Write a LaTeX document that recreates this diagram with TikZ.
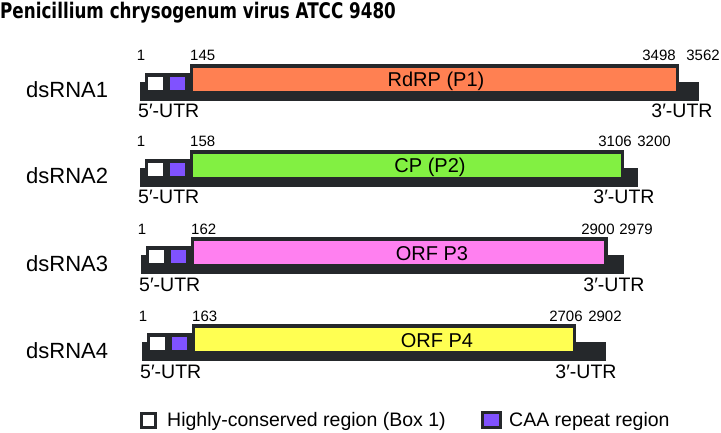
\documentclass[tikz,border=0pt]{standalone}
\usepackage{fontspec}
\setmainfont{Liberation Sans}
\newfontfamily\pcvtitle{DejaVu Sans}[FakeStretch=0.78]
\usetikzlibrary{positioning}
\definecolor{pcv@dark}{RGB}{37,40,43}
\definecolor{pcv@rdrp}{RGB}{255,128,82}
\definecolor{pcv@cp}{RGB}{130,240,66}
\definecolor{pcv@p3}{RGB}{255,128,240}
\definecolor{pcv@p4}{RGB}{255,255,82}
\definecolor{pcv@caa}{RGB}{128,82,255}
\tikzset{
  pcv/.style={x=1pt, y=-1pt, every node/.style={inner sep=0pt}},
  backbone/.style={fill=pcv@dark},          % dark genome bar
  boxone/.style={fill=white},               % highly-conserved region
  caabox/.style={fill=pcv@caa},             % CAA repeat region
  numlab/.style={font=\fontsize{15}{15}\selectfont, anchor=base},
  utrlab/.style={font=\fontsize{19.5}{19.5}\selectfont, anchor=base},
  seglab/.style={font=\fontsize{22}{22}\selectfont, anchor=base west},
  orflab/.style={font=\fontsize{20}{20}\selectfont, anchor=base},
  keylab/.style={font=\fontsize{19.5}{19.5}\selectfont, anchor=base west}
}
\begin{document}
\begin{tikzpicture}[pcv]
\useasboundingbox (0,0) rectangle (721,433);

\node[anchor=base west, font=\pcvtitle\bfseries\fontsize{21.5}{21.5}\selectfont] (title) at (0,18.5)
  {Penicillium chrysogenum virus ATCC 9480};

% dsRNA1
\begin{scope}[shift={(0,82)}]
\fill[backbone] (140,0) rectangle (699,19);
\fill[backbone] (145,-9) rectangle (190,19);
\fill[backbone] (190,-18) rectangle (679,19);
\fill[pcv@rdrp] (193,-14) rectangle (676,9);
\fill[boxone] (148,-5) rectangle (163,8);
\fill[caabox] (170,-5) rectangle (185,8);
\node[seglab] (seg1) at (26,16) {dsRNA1};
\node[orflab] (orf1) at (436,5) {RdRP (P1)};
\node[numlab] (s1)  at (141,-21) {1};
\node[numlab, anchor=base west] (a1) at (190,-21) {145};
\node[numlab] (b1)  at (659,-21) {3498};
\node[numlab] (e1)  at (703,-21) {3562};
\node[utrlab, anchor=base west] (u5p1) at (138,36) {5′-UTR};
\node[utrlab] (u3p1) at (682,36) {3′-UTR};
\end{scope}

% dsRNA2
\begin{scope}[shift={(0,168)}]
\fill[backbone] (140,0) rectangle (638,19);
\fill[backbone] (145,-9) rectangle (190,19);
\fill[backbone] (190,-18) rectangle (624,19);
\fill[pcv@cp] (193,-14) rectangle (621,9);
\fill[boxone] (148,-5) rectangle (163,8);
\fill[caabox] (170,-5) rectangle (185,8);
\node[seglab] (seg2) at (26,16) {dsRNA2};
\node[orflab] (orf2) at (430,5) {CP (P2)};
\node[numlab] (s2)  at (141,-21) {1};
\node[numlab, anchor=base west] (a2) at (190,-21) {158};
\node[numlab] (b2)  at (615,-21) {3106};
\node[numlab] (e2)  at (654,-21) {3200};
\node[utrlab, anchor=base west] (u5p2) at (138,36) {5′-UTR};
\node[utrlab] (u3p2) at (624,36) {3′-UTR};
\end{scope}

% dsRNA3
\begin{scope}[shift={(0,255)}]
\fill[backbone] (141,0) rectangle (624,19);
\fill[backbone] (146,-9) rectangle (191,19);
\fill[backbone] (191,-18) rectangle (608,19);
\fill[pcv@p3] (194,-14) rectangle (604,9);
\fill[boxone] (149,-5) rectangle (164,8);
\fill[caabox] (171,-5) rectangle (186,8);
\node[seglab] (seg3) at (26,16) {dsRNA3};
\node[orflab] (orf3) at (432,5) {ORF P3};
\node[numlab] (s3)  at (142,-21) {1};
\node[numlab, anchor=base west] (a3) at (191,-21) {162};
\node[numlab] (b3)  at (598,-21) {2900};
\node[numlab] (e3)  at (636,-21) {2979};
\node[utrlab, anchor=base west] (u5p3) at (139,36) {5′-UTR};
\node[utrlab] (u3p3) at (614,36) {3′-UTR};
\end{scope}

% dsRNA4
\begin{scope}[shift={(0,342)}]
\fill[backbone] (142,0) rectangle (606,19);
\fill[backbone] (147,-9) rectangle (192,19);
\fill[backbone] (192,-18) rectangle (576,19);
\fill[pcv@p4] (195,-14) rectangle (573,9);
\fill[boxone] (150,-5) rectangle (165,8);
\fill[caabox] (172,-5) rectangle (187,8);
\node[seglab] (seg4) at (26,16) {dsRNA4};
\node[orflab] (orf4) at (437,5) {ORF P4};
\node[numlab] (s4)  at (143,-21) {1};
\node[numlab, anchor=base west] (a4) at (192,-21) {163};
\node[numlab] (b4)  at (566,-21) {2706};
\node[numlab] (e4)  at (605,-21) {2902};
\node[utrlab, anchor=base west] (u5p4) at (140,36) {5′-UTR};
\node[utrlab] (u3p4) at (586,36) {3′-UTR};
\end{scope}

% legend
\fill[backbone] (140,411.5) rectangle (157,428.5);
\fill[boxone] (143,414.5) rectangle (154,425.5);
\node[keylab] (keyone) at (167,426) {Highly-conserved region (Box 1)};
\fill[backbone] (481,410.5) rectangle (502,428.5);
\fill[caabox] (484,413.5) rectangle (499,425.5);
\node[keylab] (keycaa) at (509,426) {CAA repeat region};

\end{tikzpicture}
\end{document}
